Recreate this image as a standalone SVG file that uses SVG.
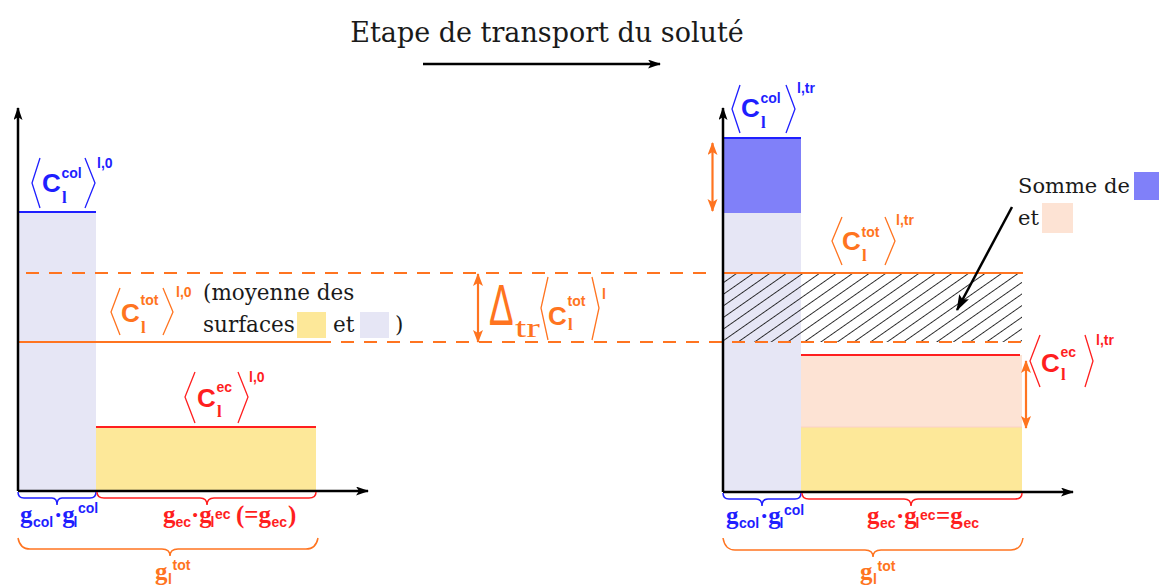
<svg xmlns="http://www.w3.org/2000/svg" width="1159" height="585" viewBox="0 0 1159 585">
<style>
.serif{font-family:"DejaVu Serif","Liberation Serif",serif;fill:#1a1a1a}
.C{font-family:"Liberation Sans",Arial,sans-serif;font-weight:bold;font-size:26px}
.sup{font-family:"Liberation Sans",Arial,sans-serif;font-weight:bold;font-size:14px}
.sub{font-family:"Liberation Serif",serif;font-weight:bold;font-size:17px}
.g{font-family:"Liberation Serif",serif;font-weight:bold;font-size:25px}
.gs{font-family:"Liberation Sans",Arial,sans-serif;font-weight:bold;font-size:14px}
.blue{fill:#1f1fff}.red{fill:#ff1f1f}.orange{fill:#ff7420}
.bb{fill:none;stroke:#1f1fff;stroke-width:1.3}
.br{fill:none;stroke:#ff1f1f;stroke-width:1.3}
.bo{fill:none;stroke:#ff7420;stroke-width:1.3}
.axis{stroke:#000;stroke-width:2.5;fill:none}
.dash{stroke:#ff7420;stroke-width:2;stroke-dasharray:13 10;fill:none}
.dbl{stroke:#ff7420;stroke-width:2.2;fill:none}
.brace{stroke-width:1.5;fill:none}
</style>
<defs>
<marker id="ah" markerUnits="userSpaceOnUse" markerWidth="14" markerHeight="10" refX="12" refY="4.5" orient="auto"><path d="M0,0 L13,4.5 L0,9 L3,4.5 Z" fill="#000"/></marker>
<marker id="oh" markerUnits="userSpaceOnUse" markerWidth="14" markerHeight="11" refX="12" refY="5" orient="auto-start-reverse"><path d="M0,0 L13,5 L0,10 L3,5 Z" fill="#ff7420"/></marker>
<marker id="bh" markerUnits="userSpaceOnUse" markerWidth="17" markerHeight="12" refX="15" refY="5.5" orient="auto"><path d="M0,0 L16,5.5 L0,11 L3,5.5 Z" fill="#000"/></marker>
<pattern id="hatch" patternUnits="userSpaceOnUse" width="9.5" height="9.5" patternTransform="rotate(55)"><line x1="0" y1="0" x2="0" y2="9.5" stroke="#111" stroke-width="1.7"/></pattern>
</defs>

<g id="title">
<text class="serif" x="547" y="42" font-size="27" text-anchor="middle">Etape de transport du soluté</text>
<line x1="423" y1="64" x2="660" y2="64" class="axis" marker-end="url(#ah)"/>
</g>

<g id="left-chart">
<rect x="18" y="212" width="78" height="279" fill="#e6e6f5"/>
<rect x="96" y="427" width="220" height="64" fill="#fde899"/>
<line x1="18" y1="212" x2="96" y2="212" stroke="#1f1fff" stroke-width="2"/>
<line x1="96" y1="427" x2="316" y2="427" stroke="#ff1f1f" stroke-width="2"/>
<line x1="18" y1="342" x2="318" y2="342" stroke="#ff7420" stroke-width="2"/>
<rect x="297" y="312" width="29" height="26" fill="#fde899"/>
<rect x="360" y="312" width="29" height="26" fill="#e6e6f5"/>
</g>

<g id="right-chart">
<rect x="723" y="213" width="78" height="279" fill="#e6e6f5"/>
<rect x="723" y="138" width="78" height="75" fill="#8080f9"/>
<rect x="801" y="355" width="221" height="72" fill="#fde3d4"/>
<rect x="801" y="427" width="221" height="65" fill="#fde899"/>
<line x1="801" y1="427" x2="1022" y2="427" stroke="#fbd0c8" stroke-width="1"/>
<rect x="723" y="273" width="299" height="69" fill="url(#hatch)"/>
<line x1="723" y1="138" x2="801" y2="138" stroke="#1f1fff" stroke-width="2"/>
<line x1="801" y1="355" x2="1020" y2="355" stroke="#ff1f1f" stroke-width="2"/>
<rect x="1134" y="172" width="26" height="28" fill="#8080f9"/>
<rect x="1042" y="203" width="31" height="30" fill="#fde3d4"/>
</g>

<g id="connectors">
<line x1="26" y1="273" x2="712" y2="273" class="dash"/>
<line x1="723" y1="273" x2="1023" y2="273" stroke="#ff7420" stroke-width="2"/>
<line x1="318" y1="342" x2="1022" y2="342" class="dash"/>
<line x1="18" y1="491" x2="18" y2="108" class="axis" marker-end="url(#ah)"/>
<line x1="18" y1="491" x2="368" y2="491" class="axis" marker-end="url(#ah)"/>
<line x1="723" y1="492" x2="723" y2="108" class="axis" marker-end="url(#ah)"/>
<line x1="723" y1="492" x2="1073" y2="492" class="axis" marker-end="url(#ah)"/>
<line x1="712.5" y1="143" x2="712.5" y2="211" class="dbl" marker-start="url(#oh)" marker-end="url(#oh)"/>
<line x1="478" y1="274" x2="478" y2="342" class="dbl" marker-start="url(#oh)" marker-end="url(#oh)"/>
<line x1="1026" y1="361" x2="1026" y2="428" class="dbl" marker-start="url(#oh)" marker-end="url(#oh)"/>
<line x1="1012" y1="207" x2="957" y2="310" stroke="#000" stroke-width="2.5" marker-end="url(#bh)"/>
<path class="brace" stroke="#1f1fff" d="M18,492 Q18,498 24,498 L52,498 Q57,498 57,505 Q57,498 62,498 L90,498 Q96,498 96,492"/>
<path class="brace" stroke="#ff1f1f" d="M97,492 Q97,498 104,498 L200,498 Q207,498 207,505 Q207,498 214,498 L309,498 Q316,498 316,492"/>
<path class="brace" stroke="#ff7420" d="M18,538 Q20,549 30,549 L162,549 Q170,549 170,556 Q170,549 178,549 L306,549 Q316,549 318,538"/>
<path class="brace" stroke="#1f1fff" d="M723,493 Q723,499 729,499 L756,499 Q762,499 762,506 Q762,499 768,499 L795,499 Q801,499 801,493"/>
<path class="brace" stroke="#ff1f1f" d="M802,493 Q802,499 809,499 L904,499 Q911,499 911,506 Q911,499 918,499 L1015,499 Q1022,499 1022,493"/>
<path class="brace" stroke="#ff7420" d="M723,538 Q725,550 735,550 L865,550 Q873,550 873,557 Q873,550 881,550 L1011,550 Q1021,550 1023,538"/>
</g>

<g id="label-col-0">
<polyline class="bb" points="40,158 32,183 40,208"/>
<polyline class="bb" points="85,158 95,183 85,208"/>
<text class="blue"><tspan class="C" x="42" y="192">C</tspan><tspan class="sup" x="61.5" y="178">col</tspan><tspan class="sub" x="62" y="203">l</tspan><tspan class="sup" x="97" y="168">l,0</tspan></text>
</g>

<g id="label-tot-0">
<polyline class="bo" points="120,288 111,312 120,335"/>
<polyline class="bo" points="163,288 173,312 163,335"/>
<text class="orange"><tspan class="C" x="121" y="322">C</tspan><tspan class="sup" x="140.5" y="305">tot</tspan><tspan class="sub" x="141" y="333">l</tspan><tspan class="sup" x="176" y="297">l,0</tspan></text>
<text class="serif" font-size="21.5"><tspan x="203" y="300">(moyenne des</tspan><tspan x="203" y="332">surfaces</tspan><tspan x="333" y="332">et</tspan><tspan x="395" y="332">)</tspan></text>
</g>

<g id="label-ec-0">
<polyline class="br" points="195,372 185,397 195,423"/>
<polyline class="br" points="238,372 248,397 238,423"/>
<text class="red"><tspan class="C" x="197" y="407">C</tspan><tspan class="sup" x="216.5" y="392">ec</tspan><tspan class="sub" x="217" y="417">l</tspan><tspan class="sup" x="249" y="382">l,0</tspan></text>
</g>

<g id="label-g-left">
<text class="blue"><tspan class="g" x="20" y="523">g</tspan><tspan class="gs" x="33" y="527">col</tspan><tspan class="g" x="54" y="523">·g</tspan><tspan class="gs" x="73.5" y="527">l</tspan><tspan class="gs" x="78" y="513">col</tspan></text>
<text class="red"><tspan class="g" x="163" y="523">g</tspan><tspan class="gs" x="175.5" y="527">ec</tspan><tspan class="g" x="191" y="523">·g</tspan><tspan class="gs" x="210.5" y="527">l</tspan><tspan class="gs" x="215" y="519">ec</tspan><tspan class="g" x="236" y="523">(=g</tspan><tspan class="gs" x="271.5" y="527">ec</tspan><tspan class="g" x="288" y="523">)</tspan></text>
<text class="orange"><tspan class="g" x="155" y="580">g</tspan><tspan class="gs" x="168" y="584">l</tspan><tspan class="gs" x="172.5" y="570">tot</tspan></text>
</g>

<g id="label-col-tr">
<polyline class="bb" points="740,85 732,109 740,133"/>
<polyline class="bb" points="786,85 795,109 786,133"/>
<text class="blue"><tspan class="C" x="741" y="117">C</tspan><tspan class="sup" x="760.5" y="103">col</tspan><tspan class="sub" x="761" y="128">l</tspan><tspan class="sup" x="797" y="93">l,tr</tspan></text>
</g>

<g id="label-tot-tr">
<polyline class="bo" points="842,217 832,241 842,265"/>
<polyline class="bo" points="885,217 895,241 885,265"/>
<text class="orange"><tspan class="C" x="842" y="250">C</tspan><tspan class="sup" x="861.5" y="237">tot</tspan><tspan class="sub" x="862" y="261">l</tspan><tspan class="sup" x="896" y="225">l,tr</tspan></text>
</g>

<g id="label-somme">
<text class="serif" font-size="21"><tspan x="1018" y="193">Somme de</tspan><tspan x="1018" y="225">et</tspan></text>
</g>

<g id="label-ec-tr">
<polyline class="br" points="1040,335 1030,361 1040,387"/>
<polyline class="br" points="1085,335 1093,361 1085,387"/>
<text class="red"><tspan class="C" x="1041" y="372">C</tspan><tspan class="sup" x="1060.5" y="357">ec</tspan><tspan class="sub" x="1061" y="380">l</tspan><tspan class="sup" x="1096" y="345">l,tr</tspan></text>
</g>

<g id="label-delta">
<text class="orange" font-family="Liberation Sans, Arial, sans-serif" font-size="40" transform="translate(489,325) scale(0.92,1.45)">Δ</text>
<text class="orange" x="515" y="337" font-family="Liberation Serif, serif" font-weight="normal" font-size="27" textLength="25" lengthAdjust="spacingAndGlyphs">tr</text>
<polyline class="bo" points="548,277 541,308 548,340"/>
<polyline class="bo" points="592,277 599,308 592,340"/>
<text class="orange"><tspan class="C" x="548" y="325">C</tspan><tspan class="sup" x="567.5" y="306">tot</tspan><tspan class="sub" x="568" y="330">l</tspan><tspan class="sup" x="602" y="299">l</tspan></text>
</g>

<g id="label-g-right">
<text class="blue"><tspan class="g" x="726" y="524">g</tspan><tspan class="gs" x="739" y="528">col</tspan><tspan class="g" x="760" y="524">·g</tspan><tspan class="gs" x="779.5" y="528">l</tspan><tspan class="gs" x="784" y="515">col</tspan></text>
<text class="red"><tspan class="g" x="867" y="524">g</tspan><tspan class="gs" x="880" y="528">ec</tspan><tspan class="g" x="896" y="524">·g</tspan><tspan class="gs" x="915.5" y="528">l</tspan><tspan class="gs" x="920" y="520">ec</tspan><tspan class="g" x="936" y="524">=g</tspan><tspan class="gs" x="963.5" y="528">ec</tspan></text>
<text class="orange"><tspan class="g" x="860" y="580">g</tspan><tspan class="gs" x="873" y="584">l</tspan><tspan class="gs" x="877.5" y="571">tot</tspan></text>
</g>
</svg>
